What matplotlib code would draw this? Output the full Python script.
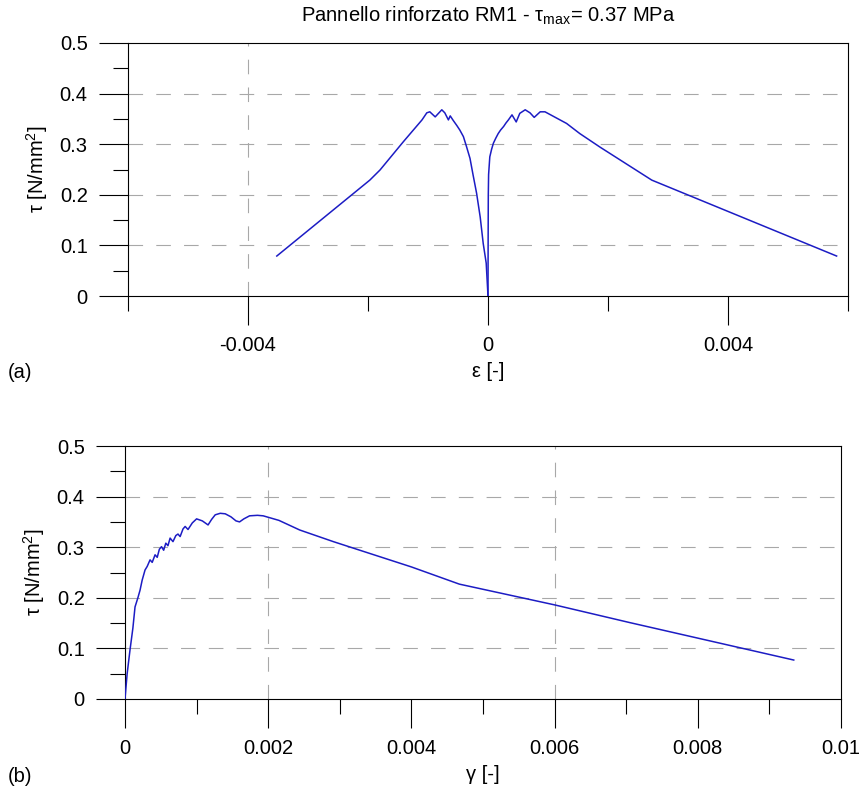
import numpy as np
import matplotlib
matplotlib.use("Agg")
import matplotlib.pyplot as plt

plt.rcParams['font.family'] = ['Liberation Sans', 'DejaVu Sans']
plt.rcParams['mathtext.fontset'] = 'custom'
plt.rcParams['mathtext.rm'] = 'Liberation Sans'
plt.rcParams['mathtext.it'] = 'Liberation Sans'
plt.rcParams['lines.scale_dashes'] = False

# pannello (a): tau - epsilon, due rami
eps_left = [0, -0.00003, -0.00008, -0.00013, -0.00019, -0.00025, -0.0003, -0.00036, -0.00041,
            -0.00047, -0.00052, -0.00058, -0.00063, -0.00066, -0.00072, -0.00077, -0.00088,
            -0.00097, -0.00102, -0.0011, -0.00141, -0.0018, -0.00197, -0.00352]
tau_left = [0, 0.065, 0.104, 0.156, 0.203, 0.24, 0.272, 0.296, 0.315,
            0.328, 0.337, 0.347, 0.356, 0.348, 0.362, 0.368, 0.354,
            0.364, 0.362, 0.348, 0.305, 0.249, 0.229, 0.079]
eps_right = [0, 0.000002, 0.000005, 0.00001, 0.00003, 0.00006, 0.00009, 0.00013, 0.00017,
             0.00021, 0.00026, 0.0003, 0.00034, 0.0004, 0.00047, 0.00053, 0.00062, 0.0007,
             0.00077, 0.00087, 0.00095, 0.00131, 0.00153, 0.00187, 0.00273, 0.00581]
tau_right = [0, 0.1, 0.2, 0.24, 0.275, 0.29, 0.302, 0.312, 0.321,
             0.328, 0.335, 0.342, 0.348, 0.358, 0.344, 0.361, 0.368, 0.362,
             0.353, 0.364, 0.364, 0.341, 0.321, 0.294, 0.229, 0.079]

# pannello (b): tau - gamma
gamma = [0, 0.00003, 0.00007, 0.00011, 0.00014, 0.00018, 0.00021, 0.00024, 0.00028, 0.00031,
         0.00035, 0.00038, 0.00042, 0.00045, 0.00048, 0.00051, 0.00054, 0.00057, 0.0006,
         0.00063, 0.00067, 0.00071, 0.00074, 0.00077, 0.00081, 0.00084, 0.00088, 0.00094,
         0.001, 0.00108, 0.00116, 0.00121, 0.00126, 0.00133, 0.0014, 0.00148, 0.00155,
         0.0016, 0.00166, 0.00174, 0.00185, 0.00193, 0.00215, 0.00244, 0.00291, 0.00328,
         0.004, 0.00467, 0.006, 0.00705, 0.00934]
tau_b = [0, 0.05, 0.097, 0.14, 0.182, 0.2, 0.215, 0.235, 0.255, 0.262,
         0.275, 0.27, 0.285, 0.28, 0.296, 0.301, 0.294, 0.308, 0.303,
         0.318, 0.311, 0.323, 0.326, 0.321, 0.336, 0.341, 0.335, 0.348,
         0.356, 0.352, 0.344, 0.355, 0.364, 0.367, 0.366, 0.36, 0.352,
         0.35, 0.356, 0.362, 0.363, 0.362, 0.353, 0.334, 0.311, 0.294,
         0.261, 0.227, 0.186, 0.151, 0.077]

y_major = [0, 0.1, 0.2, 0.3, 0.4, 0.5]
y_minor = [0.05, 0.15, 0.25, 0.35, 0.45]
y_labels = ['0', '0.1', '0.2', '0.3', '0.4', '0.5']
ya_grid = [0.1, 0.2, 0.3, 0.4]

xa_major = [-0.004, 0, 0.004]
xa_minor = [-0.006, -0.002, 0.002, 0.006]
xa_labels = ['-0.004', '0', '0.004']
xa_vgrid = [-0.004]

xb_major = [0, 0.002, 0.004, 0.006, 0.008, 0.01]
xb_minor = [0.001, 0.003, 0.005, 0.007, 0.009]
xb_labels = ['0', '0.002', '0.004', '0.006', '0.008', '0.01']
xb_vgrid = [0.002, 0.006]

blu = '#1c1cc4'
grigio = '#a8a8a8'
fs = 14.5

fig = plt.figure(figsize=(8.63, 7.94), dpi=100)
ax1 = fig.add_axes([128 / 863, 1 - 296 / 794, 720 / 863, 253 / 794])
ax2 = fig.add_axes([125 / 863, 1 - 699 / 794, 716 / 863, 253 / 794])


def stile(ax, xmaj, xmin, xlab, vgrid, xlim):
    ax.set_xlim(*xlim)
    ax.set_ylim(0, 0.5)
    ax.set_yticks(y_major)
    ax.set_yticklabels(y_labels)
    ax.set_yticks(y_minor, minor=True)
    ax.set_xticks(xmaj)
    ax.set_xticklabels(xlab)
    ax.set_xticks(xmin, minor=True)
    ax.tick_params(axis='both', which='major', direction='out', length=21, width=0.8,
                   labelsize=fs, color='black')
    ax.tick_params(axis='both', which='minor', direction='out', length=11, width=0.8,
                   color='black')
    ax.tick_params(axis='y', which='major', pad=8)
    ax.tick_params(axis='x', which='major', pad=8)
    for s in ax.spines.values():
        s.set_linewidth(0.8)
        s.set_color('black')
    for g in ya_grid:
        ax.axhline(g, color=grigio, lw=0.8, dashes=(10.5, 9.5), zorder=1)
    for g in vgrid:
        ax.axvline(g, color=grigio, lw=0.8, dashes=(10.5, 9.5), zorder=1)
    ax.set_ylabel('τ [N/mm$^2$]', fontsize=fs, labelpad=7)


stile(ax1, xa_major, xa_minor, xa_labels, xa_vgrid, (-0.006, 0.006))
ax1.plot(eps_left, tau_left, color=blu, lw=1.1, zorder=3)
ax1.plot(eps_right, tau_right, color=blu, lw=1.1, zorder=3)
ax1.set_xlabel('ε [-]', fontsize=fs, labelpad=5)
ax1.set_title('Pannello rinforzato RM1 - τ$_{\\mathrm{max}}$= 0.37 MPa', fontsize=fs, pad=15)

stile(ax2, xb_major, xb_minor, xb_labels, xb_vgrid, (0, 0.01))
ax2.plot(gamma, tau_b, color=blu, lw=1.1, zorder=3)
ax2.set_xlabel('γ [-]', fontsize=fs, labelpad=5)

fig.text(8 / 863, 1 - 373 / 794, '(a)', fontsize=fs, va='center', ha='left')
fig.text(8 / 863, 1 - 776 / 794, '(b)', fontsize=fs, va='center', ha='left')

fig.savefig('out.png', dpi=100)
